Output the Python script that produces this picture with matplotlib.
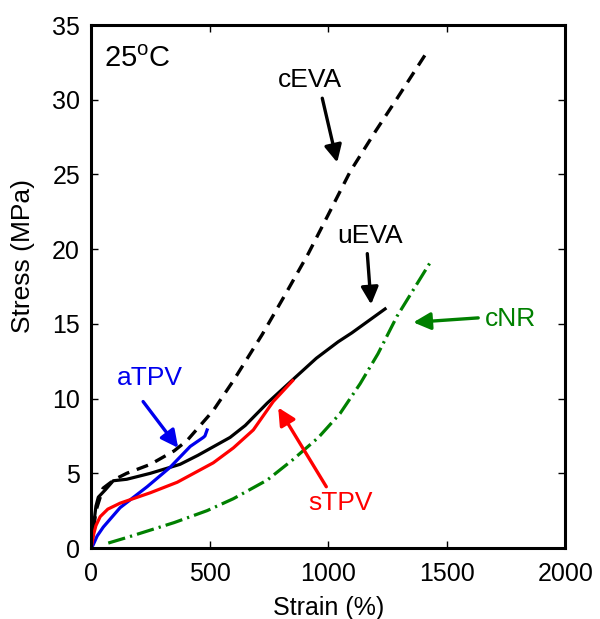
import matplotlib
matplotlib.use("Agg")
import matplotlib.pyplot as plt

plt.rcParams["font.family"] = ["Liberation Sans", "DejaVu Sans"]
plt.rcParams["mathtext.fontset"] = "custom"
plt.rcParams["mathtext.rm"] = "Liberation Sans"

# stress-strain curves, strain in %, stress in MPa
ceva_strain = [0, 20, 50, 100, 150, 250, 350, 405, 515, 600, 722, 820, 916, 1000, 1093, 1200, 1283, 1409]
ceva_stress = [0, 2.5, 4.0, 4.6, 5.0, 5.6, 6.5, 7.2, 9.2, 11.2, 14.3, 17.0, 19.7, 22.3, 25.2, 27.9, 29.9, 33.0]

ueva_strain = [0, 10, 20, 30, 60, 93, 150, 250, 375, 450, 586, 650, 743, 853, 950, 1042, 1100, 1240]
ueva_stress = [0, 1.5, 2.8, 3.4, 3.9, 4.5, 4.6, 5.0, 5.6, 6.2, 7.4, 8.2, 9.7, 11.3, 12.7, 13.8, 14.4, 16.0]

stpv_strain = [0, 10, 20, 38, 70, 122, 250, 363, 515, 600, 684, 768, 850]
stpv_stress = [0, 0.9, 1.5, 2.1, 2.6, 3.0, 3.7, 4.4, 5.7, 6.7, 7.9, 9.8, 11.2]

atpv_strain = [0, 8, 25, 51, 122, 236, 333, 418, 473, 480, 489]
atpv_stress = [0, 0.2, 0.8, 1.4, 2.7, 4.1, 5.4, 6.8, 7.4, 7.5, 7.9]

cnr_strain = [72, 150, 250, 350, 489, 600, 743, 850, 959, 1050, 1135, 1210, 1290, 1360, 1430]
cnr_stress = [0.33, 0.7, 1.2, 1.7, 2.5, 3.3, 4.55, 5.9, 7.4, 9.0, 11.0, 13.0, 15.5, 17.3, 19.1]

fig = plt.figure(figsize=(6.0, 6.19), dpi=100)
ax = fig.add_axes([0.152, 0.1147, 0.79, 0.8449])

ax.plot(ceva_strain, ceva_stress, color="black", lw=2.4, linestyle=(0, (3.6, 2.4)))
ax.plot(ueva_strain, ueva_stress, color="black", lw=2.3)
ax.plot(atpv_strain, atpv_stress, color="#0000ee", lw=2.3)
ax.plot(stpv_strain, stpv_stress, color="#ff0000", lw=2.3)
ax.plot(cnr_strain, cnr_stress, color="#008000", lw=2.3, linestyle=(0, (5.5, 1.6, 0.7, 1.6)))

fs = 18
afs = 19
arrow = dict(arrowstyle="-|>", lw=2.4, mutation_scale=26, shrinkA=0, shrinkB=0)

ax.text(924, 31.3, "cEVA", fontsize=afs, ha="center", va="center")
ax.annotate("", xy=(1038, 25.8), xytext=(975, 30.1), arrowprops=dict(arrow, color="black"))

ax.text(1177, 20.9, "uEVA", fontsize=afs, ha="center", va="center")
ax.annotate("", xy=(1181, 16.3), xytext=(1165, 19.7), arrowprops=dict(arrow, color="black"))

ax.text(1662, 15.3, "cNR", fontsize=afs, ha="left", va="center", color="#008000")
ax.annotate("", xy=(1359, 15.1), xytext=(1633, 15.4), arrowprops=dict(arrow, color="#008000"))

ax.text(1051, 3.0, "sTPV", fontsize=afs, ha="center", va="center", color="#ff0000")
ax.annotate("", xy=(789, 9.4), xytext=(992, 4.1), arrowprops=dict(arrow, color="#ff0000"))

ax.text(249, 11.4, "aTPV", fontsize=afs, ha="center", va="center", color="#0000ee")
ax.annotate("", xy=(367, 6.7), xytext=(219, 9.8), arrowprops=dict(arrow, color="#0000ee"))

ax.text(55, 32.7, r"25$^{\rm o}$C", fontsize=21, ha="left", va="center")

ax.set_xlim(0, 2000)
ax.set_ylim(0, 35)
ax.set_xticks([0, 500, 1000, 1500, 2000])
ax.set_yticks([0, 5, 10, 15, 20, 25, 30, 35])
ax.tick_params(direction="in", top=True, right=True, length=5, width=1, labelsize=fs)
ax.tick_params(axis="x", pad=10)
ax.tick_params(axis="y", pad=8)
for s in ax.spines.values():
    s.set_linewidth(2.2)

ax.set_xlabel("Strain (%)", fontsize=fs, labelpad=7)
ax.set_ylabel("Stress (MPa)", fontsize=19)
ax.yaxis.set_label_coords(-0.118, 0.558)

fig.savefig("out.png", dpi=100)
